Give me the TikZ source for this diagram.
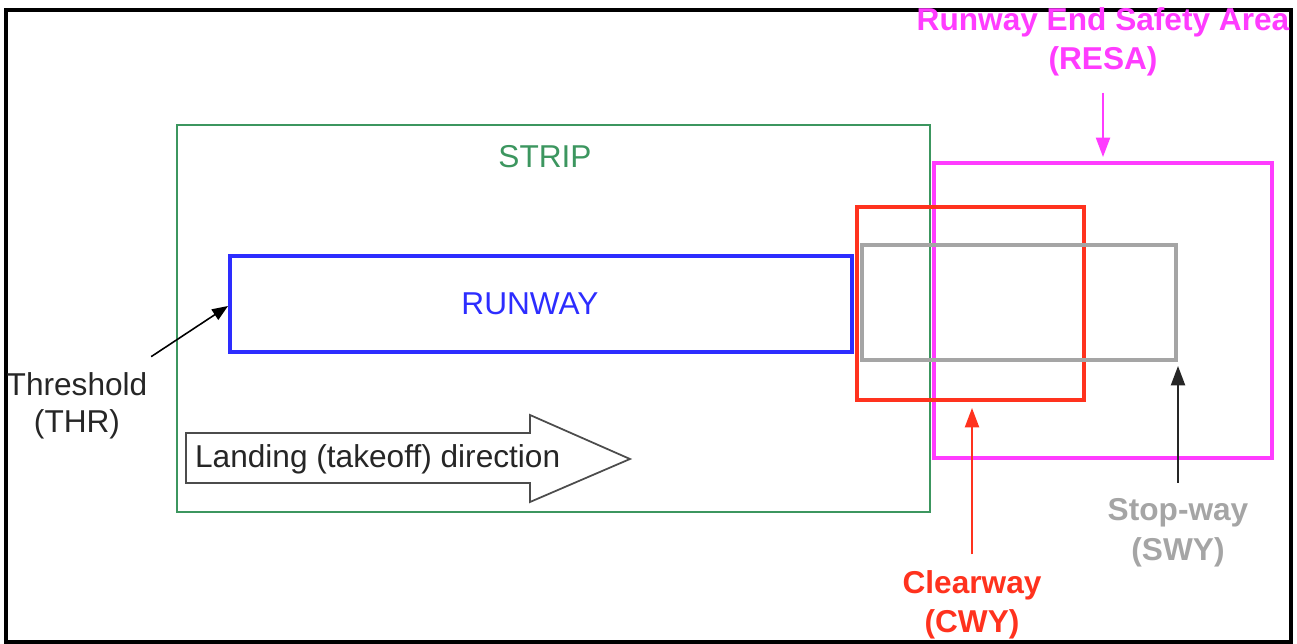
\documentclass[tikz,border=0pt]{standalone}
\usepackage{fontspec}
\setmainfont{Liberation Sans}
\usepackage{tikz}
\usetikzlibrary{arrows.meta}
\definecolor{stripgreen}{RGB}{60,150,95}
\definecolor{rwyblue}{RGB}{45,45,255}
\definecolor{cwyred}{RGB}{255,50,30}
\definecolor{swygray}{RGB}{165,165,165}
\definecolor{resapink}{RGB}{255,60,255}
\newcommand{\area}[5]{ \draw[line width=1.9pt, #5] ( #1 , #2 ) rectangle ( #3 , #4 );}
\tikzset{
  txt/.style={font=\fontsize{18}{21}\selectfont, inner sep=1pt},
  boldtxt/.style={font=\fontsize{18}{22.5}\selectfont\bfseries, inner sep=1pt, align=center},
  tip/.style={line width=1.1pt, -{Triangle[length=11pt,width=8pt]}}
}

\begin{document}
\begin{tikzpicture}[x=0.02cm,y=-0.02cm]
\useasboundingbox (0,0) rectangle (1297,644);
% outer frame
\draw[line width=1.8pt] (6,10) rectangle (1291,642);
% areas
\area{177}{125}{930}{512}{stripgreen, line width=1.3pt}
\area{230}{256}{852}{352}{rwyblue}
\area{934}{163}{1272}{458}{resapink}
\area{857}{207}{1084}{400}{cwyred}
\area{862}{245}{1176}{360}{swygray}
% direction arrow
\draw[black!70, line width=1pt] (186,433) -- (530,433) -- (530,415) -- (630,459)
  -- (530,502) -- (530,483) -- (186,483) -- cycle;
\node[txt, anchor=west, black!85] (landing) at (193,459) {Landing (takeoff) direction};
% labels
\node[txt, stripgreen] (strip) at (545,157) {STRIP};
\node[txt, rwyblue] (runway) at (530,304) {RUNWAY};
\node[txt, align=center, black!85] (thr) at (77,406) {Threshold\\(THR)};
\node[boldtxt, resapink] (resa) at (1103,42) {Runway End Safety Area\\(RESA)};
\node[boldtxt, cwyred] (cwy) at (972,605) {Clearway\\(CWY)};
\node[boldtxt, swygray] (swy) at (1178,533) {Stop-way\\(SWY)};
% arrow ends
\coordinate (thrend) at (228,306);
\coordinate (resaend) at (1103,157);
\coordinate (cwyend) at (972,408);
\coordinate (swyend) at (1178,366);
% arrows
\draw[tip, line width=0.9pt, -{Triangle[length=9pt,width=7pt]}] ([xshift=1pt,yshift=8pt]thr.north east) -- (thrend);
\draw[tip, resapink, shorten <=8pt] (resa.south) -- (resaend);
\draw[tip, cwyred, shorten <=8pt] (cwy.north) -- (cwyend);
\draw[tip, black!85, shorten <=8pt] (swy.north) -- (swyend);
\end{tikzpicture}
\end{document}
